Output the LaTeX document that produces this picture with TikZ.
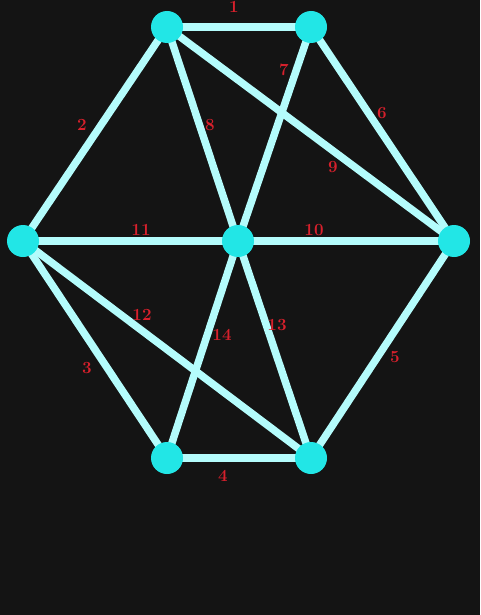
\documentclass[tikz,border=0pt]{standalone}
\definecolor{bg}{HTML}{141414}
\definecolor{edgec}{HTML}{B4FCFC}
\definecolor{nodec}{HTML}{22E6E6}
\definecolor{lab}{HTML}{D8202C}
\pgfdeclarelayer{bgl}
\pgfdeclarelayer{edgel}
\pgfsetlayers{bgl,edgel,main}
\begin{document}
\begin{tikzpicture}[x=1pt,y=-1pt,
  vert/.style={circle,fill=nodec,minimum size=32pt,inner sep=0pt},
  edge/.style={draw=edgec,line width=7.5pt},
  lbl/.style={text=lab,font=\fontsize{17}{17}\selectfont\bfseries,inner sep=0pt}]
\begin{pgfonlayer}{bgl}
\fill[bg] (0,0) rectangle (480,615);
\end{pgfonlayer}
\useasboundingbox (0,0) rectangle (480,615);
\node[vert] (A) at (167,27) {};
\node[vert] (B) at (311,27) {};
\node[vert] (C) at (23,241) {};
\node[vert] (D) at (238,241) {};
\node[vert] (E) at (454,241) {};
\node[vert] (F) at (167,458) {};
\node[vert] (G) at (311,458) {};
\begin{pgfonlayer}{edgel}
\path[edge] (A.center) -- (B.center);
\path[edge] (A.center) -- (C.center);
\path[edge] (B.center) -- (D.center);
\path[edge] (A.center) -- (D.center);
\path[edge] (B.center) -- (E.center);
\path[edge] (A.center) -- (E.center);
\path[edge] (C.center) -- (D.center);
\path[edge] (D.center) -- (E.center);
\path[edge] (C.center) -- (G.center);
\path[edge] (C.center) -- (F.center);
\path[edge] (D.center) -- (F.center);
\path[edge] (D.center) -- (G.center);
\path[edge] (E.center) -- (G.center);
\path[edge] (F.center) -- (G.center);
\end{pgfonlayer}
\node[lbl] (l1) at (234,7) {1};
\node[lbl] (l2) at (82,125) {2};
\node[lbl] (l3) at (87,368) {3};
\node[lbl] (l4) at (223,476) {4};
\node[lbl] (l5) at (395,357) {5};
\node[lbl] (l6) at (382,113) {6};
\node[lbl] (l7) at (284,70) {7};
\node[lbl] (l8) at (210,125) {8};
\node[lbl] (l9) at (333,167) {9};
\node[lbl] (l10) at (314,230) {10};
\node[lbl] (l11) at (141,230) {11};
\node[lbl] (l12) at (142,315) {12};
\node[lbl] (l13) at (277,325) {13};
\node[lbl] (l14) at (222,335) {14};
\end{tikzpicture}
\end{document}
